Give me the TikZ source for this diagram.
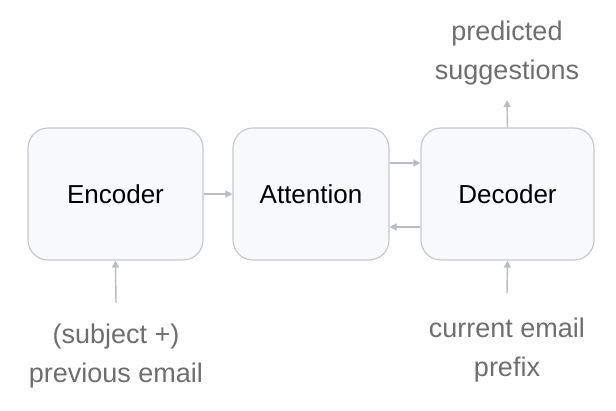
\documentclass[tikz,border=0pt]{standalone}
\usepackage{fontspec}
\setmainfont{Liberation Sans}
\usetikzlibrary{arrows.meta}
\definecolor{boxfill}{HTML}{F8F9FA}
\definecolor{boxline}{HTML}{C6C9CD}
\definecolor{arr}{HTML}{B9BDC2}
\definecolor{lbl}{HTML}{6E6E6E}
\tikzset{
  blk/.style={draw=boxline, line width=1.2pt, fill=boxfill, rounded corners=20pt, minimum height=132pt, inner sep=0pt, font=\fontsize{26}{30}\selectfont, text=black},
  conn/.style={draw=arr, line width=1.4pt, -{Triangle[length=7pt,width=7pt]}},
  lab/.style={text=lbl, font=\fontsize{27}{39}\selectfont, align=center, inner sep=0pt}
}
\begin{document}
\begin{tikzpicture}[x=1pt,y=-1pt]
\useasboundingbox (0,0) rectangle (616,410);
\node[blk, minimum width=175pt] (enc) at (115.5,194) {Encoder};
\node[blk, minimum width=156pt] (att) at (311,194) {Attention};
\node[blk, minimum width=173pt] (dec) at (507.5,194) {Decoder};
\node[lab] (in1) at (116,356) {(subject +)\\previous email};
\node[lab] (in2) at (507,350) {current email\\prefix};
\node[lab] (out) at (507,53) {predicted\\suggestions};
\coordinate (in1t) at (116,303);
\coordinate (in2t) at (507,293);
\coordinate (outb) at (507,100);
\draw[conn] (enc.east) -- (att.west);
\draw[conn] (att.east |- 0,163) -- (dec.west |- 0,163);
\draw[conn] (dec.west |- 0,227) -- (att.east |- 0,227);
\draw[conn] (in1t) -- (enc.south);
\draw[conn] (in2t) -- (dec.south);
\draw[conn] (dec.north) -- (outb);
\end{tikzpicture}
\end{document}
